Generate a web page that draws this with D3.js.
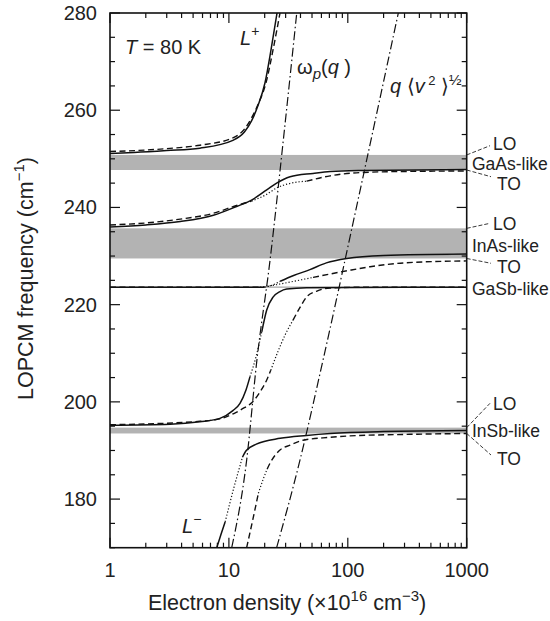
<!DOCTYPE html>
<html><head><meta charset="utf-8">
<script src="https://cdn.jsdelivr.net/npm/d3@7"></script>
<style>
body{margin:0;background:#fff;}
svg{font-family:"Liberation Sans",Arial,Helvetica,sans-serif;}
</style></head>
<body><svg id="c" width="550" height="621"></svg>
<script>
// ---------- data ----------
const xTickValues = [1, 10, 100, 1000];
const yTickValues = [180, 200, 220, 240, 260, 280];
const xDomain = [1, 1000];
const yDomain = [170, 280];

// phonon bands (cm^-1)
const bandNames = ["GaAs-like", "InAs-like", "GaSb-like", "InSb-like"];
const bandTO = [247.7, 229.5, 223.45, 193.5];
const bandLO = [250.8, 235.7, 223.75, 194.7];

// reference lines (density 1e16 cm^-3, frequency cm^-1)
const omegaPLine = [[10.56,170],[14.1,188.0],[17.2,208.6],[22.2,229.2],[28.7,253.9],[37.2,280]];
const qvLine = [[25.2,170],[39.6,188.0],[61.9,208.6],[121.8,241.5],[266,280]];

// L+ branch
const lPlusSolid = [[1,251.1],[1.6,251.3],[3,251.7],[5.7,252.2],[10.8,253.8],[13.5,255.5],[15.5,257.8],[17.6,261],[20.1,265.6],[22.6,272.4],[25.4,280]];
const lPlusDashed = [[1,251.5],[3,252.1],[5.7,252.8],[10.8,254.3],[13.5,256.1],[15.5,258.4],[17.6,261.2],[20.5,265.6],[23.5,272.4],[26.9,280]];

// branch 2 (236 -> GaAs TO)
const b2Solid = [[1,236.0],[2,236.4],[3.9,237.1],[7.4,238.4],[11.6,240.2],[15.5,241.5],[20.8,243.6],[25.2,245.0],[32.7,246.3],[51,247.0],[71,247.4],[134,247.6],[1000,247.8]];
const b2DashedA = [[1,236.4],[2,236.8],[3.9,237.6],[7.4,238.8],[11.6,240.4],[15.5,241.3]];
const b2Dotted = [[15.5,241.3],[20.8,242.7],[25.2,244.0],[32,244.9],[45,245.4]];
const b2DashedB = [[45,245.4],[71,246.5],[134,247.2],[300,247.4],[1000,247.5]];

// branch 3 (GaSb -> InAs TO)
const b3SolidA = [[1,223.6],[20,223.6]];
const b3SolidDot = [[20,223.6],[23,224.0],[27,224.8]];
const b3SolidB = [[27,224.8],[35,226.0],[48,227.2],[66,228.6],[98,229.5],[200,230.1],[1000,230.4]];
const b3DashedA = [[1,223.6],[18.3,223.6]];
const b3Dotted = [[18.3,223.6],[25,224.1],[35,224.8],[51,225.6]];
const b3DashedB = [[51,225.6],[100,227.0],[154,227.8],[300,228.6],[1000,229.0]];

// branch 4 (InSb LO -> GaSb)
const b4SolidA = [[1,195.2],[3.2,195.4],[5.7,195.9],[8.4,196.6],[10.8,198.2],[12.4,199.7],[13.9,202.4],[15.05,205.2]];
const b4SolidDot = [[15.05,205.2],[17,209.5],[18.9,214.4]];
const b4SolidB = [[18.9,214.4],[20.8,218.9],[23.6,221.6],[26.9,222.7],[30.6,223.2],[45,223.5],[1000,223.6]];
const b4DashedA = [[1,195.3],[5.7,196.0],[8.4,196.5],[11,197.6],[13.5,198.8],[15.55,199.8],[18,201.8],[20.8,204.5],[22.5,206.5]];
const b4Dotted = [[22.5,206.5],[26,210.5],[30,214],[34.6,216.8]];
const b4DashedB = [[34.6,216.8],[40,219.6],[45.1,221.6],[55,222.8],[70.8,223.4],[150,223.6],[1000,223.6]];

// L- branch
const lMinusSolidA = [[7.9,170],[8.6,172.8],[9.3,175.3]];
const lMinusSolidDot = [[9.3,175.3],[11,182.3],[13.0,188.6]];
const lMinusSolidB = [[13.0,188.6],[14,190.0],[17,191.3],[27,192.5],[45,193.1],[71,193.5],[200,193.9],[1000,194.1]];
const lMinusDashedA = [[14.1,170],[15.8,175.5],[17.7,181.2]];
const lMinusDotted = [[17.7,181.2],[19.5,184.2],[21,186.2]];
const lMinusDashedB = [[21,186.2],[22.2,187.4],[26.9,190.1],[32.7,191.1],[42,192.1],[70,192.7],[104,193.0],[300,193.3],[1000,193.5]];

// ---------- drawing ----------
const svg = d3.select("#c");
const L = 110, R = 466.7, T = 13, B = 547.7;
const x = d3.scaleLog().domain(xDomain).range([L, R]);
const y = d3.scaleLinear().domain(yDomain).range([B, T]);

svg.append("defs").append("clipPath").attr("id","clip")
  .append("rect").attr("x",L).attr("y",T).attr("width",R-L).attr("height",B-T);

const plot = svg.append("g").attr("clip-path","url(#clip)");

// bands
bandNames.forEach((nm,i)=>{
  plot.append("rect").attr("x",L).attr("width",R-L)
    .attr("y",y(bandLO[i])).attr("height",y(bandTO[i])-y(bandLO[i]))
    .attr("fill","#b3b3b3");
});

const line = d3.line().x(d=>x(d[0])).y(d=>y(d[1])).curve(d3.curveMonotoneX);
const styles = {
  solid:{w:1.5,dash:null},
  dashed:{w:1.4,dash:"6,3.5"},
  dotted:{w:1.2,dash:"1.2,2"},
  dashdot:{w:1.2,dash:"9,3,1.5,3"}
};
function draw(data, st){
  const s = styles[st];
  const p = plot.append("path").attr("d",line(data)).attr("fill","none")
    .attr("stroke","#111").attr("stroke-width",s.w);
  if(s.dash) p.attr("stroke-dasharray",s.dash);
}
draw(omegaPLine,"dashdot");
draw(qvLine,"dashdot");
draw(lPlusDashed,"dashed"); draw(lPlusSolid,"solid");
draw(b2DashedA,"dashed"); draw(b2Dotted,"dotted"); draw(b2DashedB,"dashed"); draw(b2Solid,"solid");
draw(b3DashedA,"dashed"); draw(b3Dotted,"dotted"); draw(b3DashedB,"dashed");
draw(b3SolidA,"solid"); draw(b3SolidDot,"dotted"); draw(b3SolidB,"solid");
draw(b4DashedA,"dashed"); draw(b4Dotted,"dotted"); draw(b4DashedB,"dashed");
draw(b4SolidA,"solid"); draw(b4SolidDot,"dotted"); draw(b4SolidB,"solid");
draw(lMinusDashedA,"dashed"); draw(lMinusDotted,"dotted"); draw(lMinusDashedB,"dashed");
draw(lMinusSolidA,"solid"); draw(lMinusSolidDot,"dotted"); draw(lMinusSolidB,"solid");

// axes with inward ticks
const yMinor = d3.range(170, 281, 5).filter(v=>!yTickValues.includes(v));
const xMinor = [];
[1,10,100].forEach(d=>{for(let k=2;k<=9;k++) xMinor.push(d*k);});

const ax = svg.append("g").attr("stroke","#111");
function tickY(v,len){
  ax.append("line").attr("x1",L).attr("x2",L+len).attr("y1",y(v)).attr("y2",y(v)).attr("stroke-width",1.2);
  ax.append("line").attr("x1",R).attr("x2",R-len).attr("y1",y(v)).attr("y2",y(v)).attr("stroke-width",1.2);
}
function tickX(v,len){
  ax.append("line").attr("y1",B).attr("y2",B-len).attr("x1",x(v)).attr("x2",x(v)).attr("stroke-width",1.2);
  ax.append("line").attr("y1",T).attr("y2",T+len).attr("x1",x(v)).attr("x2",x(v)).attr("stroke-width",1.2);
}
yTickValues.forEach(v=>tickY(v,10));
yMinor.forEach(v=>tickY(v,5));
xTickValues.forEach(v=>tickX(v,10));
xMinor.forEach(v=>tickX(v,5));
svg.append("rect").attr("x",L).attr("y",T).attr("width",R-L).attr("height",B-T)
  .attr("fill","none").attr("stroke","#111").attr("stroke-width",1.6);

// tick labels
const lab = svg.append("g").attr("fill","#222").attr("font-size",20);
yTickValues.forEach(v=>{
  lab.append("text").attr("x",97).attr("y",y(v)).attr("dy","0.35em").attr("text-anchor","end").text(v);
});
xTickValues.forEach(v=>{
  lab.append("text").attr("x",x(v)).attr("y",B+29).attr("text-anchor","middle").text(v);
});

// axis titles
const xt = svg.append("text").attr("x",148).attr("y",610).attr("text-anchor","start").attr("font-size",21.5).attr("fill","#222");
xt.append("tspan").text("Electron density (\u00d710");
xt.append("tspan").attr("dy",-9).attr("font-size",15).text("16");
xt.append("tspan").attr("dy",9).text(" cm");
xt.append("tspan").attr("dy",-9).attr("font-size",15).text("\u22123");
xt.append("tspan").attr("dy",9).text(")");

const yt = svg.append("text").attr("transform","translate(33,400) rotate(-90)").attr("text-anchor","start").attr("font-size",21.5).attr("fill","#222");
yt.append("tspan").text("LOPCM frequency (cm");
yt.append("tspan").attr("dy",-9).attr("font-size",15).text("\u22121");
yt.append("tspan").attr("dy",9).text(")");

// annotations
const an = svg.append("g").attr("font-size",20).attr("fill","#222");
const t1 = an.append("text").attr("x",125).attr("y",54);
t1.append("tspan").attr("font-style","italic").text("T");
t1.append("tspan").text(" = 80 K");
const lp = an.append("text").attr("x",240).attr("y",45);
lp.append("tspan").attr("font-style","italic").text("L");
lp.append("tspan").attr("dy",-9).attr("font-size",14).text("+");
const lm = an.append("text").attr("x",182).attr("y",533);
lm.append("tspan").attr("font-style","italic").text("L");
lm.append("tspan").attr("dy",-9).attr("font-size",14).text("\u2212");
const wp = an.append("text").attr("x",297).attr("y",74);
wp.append("tspan").text("\u03c9");
wp.append("tspan").attr("dy",5).attr("font-size",15).attr("font-style","italic").text("p");
wp.append("tspan").attr("dy",-5).text("(");
wp.append("tspan").attr("font-style","italic").text("q");
wp.append("tspan").text(" )");
const qv = an.append("text").attr("x",390).attr("y",93);
qv.append("tspan").attr("font-style","italic").text("q");
qv.append("tspan").text(" \u27e8");
qv.append("tspan").attr("font-style","italic").text("v");
qv.append("tspan").attr("dy",-8).attr("font-size",13).text(" 2");
qv.append("tspan").attr("dy",8).text(" \u27e9");
qv.append("tspan").attr("dy",-8).attr("font-size",15).text("\u00bd");

// right-hand mode labels
const rl = svg.append("g").attr("font-size",17.5).attr("fill","#222");
const lead = svg.append("g").attr("stroke","#222").attr("stroke-width",0.9).attr("stroke-dasharray","4,2").attr("fill","none");
const labelY = [169.5, 252, 295, 437];
const loText = [149.5, 230, null, 410];
const toText = [189.5, 273, null, 465];
const loLead = [145.7, 223.3, null, 403.3];
const toLead = [176.7, 263.3, null, 455];
bandNames.forEach((nm,i)=>{
  rl.append("text").attr("x",472).attr("y",labelY[i]).text(nm);
  if(loText[i]!==null){
    rl.append("text").attr("x",493).attr("y",loText[i]).text("LO");
    rl.append("text").attr("x",497).attr("y",toText[i]).text("TO");
    lead.append("line").attr("x1",R).attr("y1",y(bandLO[i])).attr("x2",490).attr("y2",loLead[i]);
    lead.append("line").attr("x1",R).attr("y1",y(bandTO[i])).attr("x2",491).attr("y2",toLead[i]);
  }
});
</script></body></html>
